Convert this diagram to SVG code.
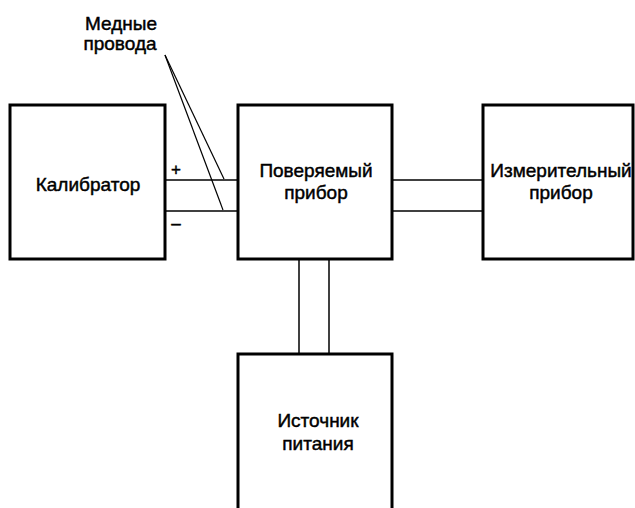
<svg xmlns="http://www.w3.org/2000/svg" width="635" height="508" viewBox="0 0 635 508">
<style>
.box{fill:#fff;stroke:#000;stroke-width:3}
.wire{fill:none;stroke:#000;stroke-width:1.5}
.lead{fill:none;stroke:#000;stroke-width:1.2}
text{font-family:"Liberation Sans",Arial,sans-serif;font-size:19px;fill:#000;stroke:#000;stroke-width:0.45;text-anchor:middle}
</style>
<rect width="635" height="508" fill="#fff"/>
<g id="connectors">
<line class="wire" x1="165" y1="180" x2="238" y2="180"/>
<line class="wire" x1="165" y1="211" x2="238" y2="211"/>
<line class="wire" x1="392" y1="180" x2="483" y2="180"/>
<line class="wire" x1="392" y1="211" x2="483" y2="211"/>
<line class="wire" x1="299" y1="259" x2="299" y2="354"/>
<line class="wire" x1="329" y1="259" x2="329" y2="354"/>
<line class="lead" x1="165" y1="55" x2="224" y2="179"/>
<line class="lead" x1="165" y1="55" x2="223" y2="210"/>
<text x="176" y="175" style="font-size:17px">+</text>
<text x="176" y="229" style="font-size:17px">–</text>
</g>
<g id="label-wires">
<text x="121" y="30">Медные</text>
<text x="120" y="50">провода</text>
</g>
<g id="calibrator">
<rect class="box" x="10" y="105" width="155" height="154"/>
<text x="88" y="191">Калибратор</text>
</g>
<g id="device-under-test">
<rect class="box" x="238" y="105" width="154" height="154"/>
<text x="316" y="177">Поверяемый</text>
<text x="316" y="199">прибор</text>
</g>
<g id="measuring-device">
<rect class="box" x="483" y="105" width="150" height="154"/>
<text x="561" y="177">Измерительный</text>
<text x="561" y="199">прибор</text>
</g>
<g id="power-supply">
<rect class="box" x="238" y="354" width="154" height="160"/>
<text x="318" y="427">Источник</text>
<text x="318" y="450">питания</text>
</g>
</svg>
